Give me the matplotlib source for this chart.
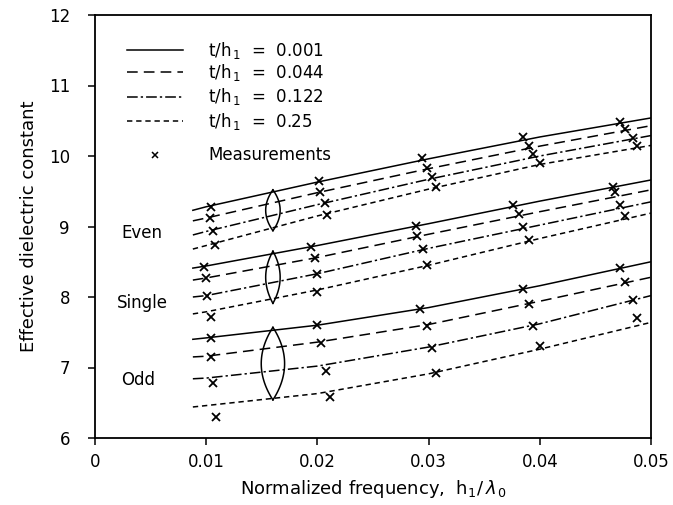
import matplotlib.pyplot as plt
import numpy as np

# curve abscissa (h1/lambda0)
xc = [0.0088, 0.01, 0.02, 0.03, 0.04, 0.05]

# computed curves, t/h1 = 0.001, 0.044, 0.122, 0.25
even_c = [[9.23, 9.28, 9.63, 9.96, 10.27, 10.54],
          [9.08, 9.12, 9.48, 9.82, 10.14, 10.43],
          [8.88, 8.93, 9.31, 9.67, 10.00, 10.29],
          [8.68, 8.73, 9.15, 9.53, 9.88, 10.15]]
single_c = [[8.41, 8.44, 8.73, 9.04, 9.36, 9.66],
            [8.24, 8.27, 8.56, 8.89, 9.21, 9.52],
            [8.00, 8.02, 8.33, 8.69, 9.02, 9.35],
            [7.76, 7.79, 8.10, 8.45, 8.83, 9.19]]
odd_c = [[7.40, 7.42, 7.60, 7.85, 8.16, 8.50],
         [7.15, 7.16, 7.36, 7.61, 7.94, 8.28],
         [6.84, 6.85, 7.02, 7.29, 7.62, 8.02],
         [6.44, 6.46, 6.63, 6.91, 7.26, 7.64]]

# measurements (x, y)
even_mx = [[0.0104, 0.0201, 0.0294, 0.0385, 0.0472],
           [0.0103, 0.0202, 0.0299, 0.0390, 0.0477],
           [0.0106, 0.0207, 0.0303, 0.0394, 0.0484],
           [0.0108, 0.0209, 0.0307, 0.0400, 0.0487]]
even_my = [[9.28, 9.64, 9.97, 10.27, 10.48],
           [9.12, 9.49, 9.83, 10.14, 10.38],
           [8.94, 9.33, 9.70, 10.03, 10.26],
           [8.74, 9.16, 9.56, 9.90, 10.14]]
single_mx = [[0.0098, 0.0194, 0.0289, 0.0376, 0.0466],
             [0.0100, 0.0198, 0.0290, 0.0381, 0.0468],
             [0.0101, 0.0200, 0.0295, 0.0385, 0.0472],
             [0.0104, 0.0200, 0.0299, 0.0390, 0.0477]]
single_my = [[8.43, 8.71, 9.01, 9.30, 9.56],
             [8.27, 8.55, 8.87, 9.18, 9.49],
             [8.01, 8.33, 8.68, 8.99, 9.30],
             [7.72, 8.07, 8.45, 8.81, 9.15]]
odd_mx = [[0.0104, 0.0200, 0.0292, 0.0385, 0.0472],
          [0.0104, 0.0203, 0.0299, 0.0390, 0.0477],
          [0.0106, 0.0208, 0.0303, 0.0394, 0.0484],
          [0.0109, 0.0211, 0.0307, 0.0400, 0.0487]]
odd_my = [[7.42, 7.60, 7.83, 8.11, 8.41],
          [7.15, 7.35, 7.59, 7.90, 8.21],
          [6.78, 6.95, 7.28, 7.59, 7.96],
          [6.30, 6.58, 6.92, 7.30, 7.70]]

labels = ["t/h$_{\\,1}$  =  0.001", "t/h$_{\\,1}$  =  0.044",
          "t/h$_{\\,1}$  =  0.122", "t/h$_{\\,1}$  =  0.25"]
styles = ["-", (0, (7, 4)), (0, (7, 2, 1.5, 2)), (0, (3.5, 2.5))]

# lens markers: (center x, y bottom, y top, width)
lens = [(0.016, 8.94, 9.52, 0.0013),
        (0.016, 7.91, 8.65, 0.0013),
        (0.016, 6.54, 7.57, 0.0021)]

plt.rcParams['font.family'] = 'DejaVu Sans'
fig = plt.figure(figsize=(6.73, 5.05), dpi=100)
ax = fig.add_axes([95/673, 1-438/505, 556/673, 423/505])

for grp_c, grp_mx, grp_my in [(even_c, even_mx, even_my),
                              (single_c, single_mx, single_my),
                              (odd_c, odd_mx, odd_my)]:
    for i in range(4):
        ax.plot(xc, grp_c[i], color="k", lw=1.1, linestyle=styles[i])
        ax.plot(grp_mx[i], grp_my[i], "x", color="k", ms=6, mew=1.3)

# lens shapes
s = np.linspace(-1, 1, 60)
for cx, y0, y1, w in lens:
    yy = y0 + (s + 1)/2*(y1 - y0)
    ax.plot(cx + w/2*(1 - s**2), yy, color="k", lw=1.1)
    ax.plot(cx - w/2*(1 - s**2), yy, color="k", lw=1.1)

# legend drawn by hand
ly = [11.50, 11.19, 10.84, 10.49]
for i in range(4):
    ax.plot([0.0029, 0.0079], [ly[i], ly[i]], color="k", lw=1.1, linestyle=styles[i])
    ax.text(0.0102, ly[i], labels[i], fontsize=12, va="center")
ax.plot([0.0054], [10.02], "x", color="k", ms=5, mew=1.1)
ax.text(0.0102, 10.02, "Measurements", fontsize=12, va="center")

ax.text(0.0042, 8.91, "Even", fontsize=12, ha="center", va="center")
ax.text(0.0043, 7.91, "Single", fontsize=12, ha="center", va="center")
ax.text(0.0039, 6.82, "Odd", fontsize=12, ha="center", va="center")

ax.set_xlim(0, 0.05)
ax.set_ylim(6, 12)
ax.set_xticks([0, 0.01, 0.02, 0.03, 0.04, 0.05])
ax.set_xticklabels(["0", "0.01", "0.02", "0.03", "0.04", "0.05"])
ax.set_yticks([6, 7, 8, 9, 10, 11, 12])
ax.tick_params(direction="out", length=5, width=1.1, labelsize=12)
ax.tick_params(axis="y", pad=13)
ax.tick_params(axis="x", pad=6)
for sp in ax.spines.values():
    sp.set_linewidth(1.3)

ax.set_xlabel("Normalized frequency,  h$_1$/$\\,\\lambda_{\\,0}$", fontsize=13, labelpad=5)
ax.set_ylabel("Effective dielectric constant", fontsize=13, labelpad=8)

fig.savefig("out.png", dpi=100)
